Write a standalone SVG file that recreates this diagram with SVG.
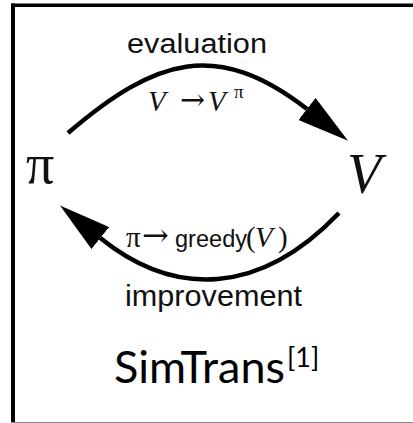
<svg xmlns="http://www.w3.org/2000/svg" width="413" height="423" viewBox="0 0 413 423">
<style>
.sans{font-family:"Liberation Sans",Arial,sans-serif;fill:#111}
.serif{font-family:"Liberation Serif","Times New Roman",serif;fill:#111}
.arr{font-family:"DejaVu Serif","DejaVu Sans",serif;fill:#111}
.it{font-style:italic}
.cal{font-family:Lato,"Open Sans","Liberation Sans",sans-serif;fill:#000}
.arc{fill:none;stroke:#000;stroke-width:4.5}
</style>
<defs>
<marker id="ah" markerUnits="userSpaceOnUse" markerWidth="52" markerHeight="28" refX="0" refY="13.5" orient="auto" viewBox="0 0 50 27">
<path d="M0,0 L50,13.5 L0,27 Z" fill="#000"/>
</marker>
</defs>
<rect x="0" y="0" width="413" height="423" fill="#fff"/>
<g id="frame">
<rect x="11" y="3.5" width="402" height="3.5" fill="#000"/>
<rect x="11" y="3.5" width="4" height="419.5" fill="#000"/>
<rect x="11" y="422" width="402" height="1" fill="#888"/>
</g>
<g id="connectors">
<path class="arc" d="M68,133 C155.4,58.25 216.2,38.85 307,109" marker-end="url(#ah)"/>
<path class="arc" d="M339,213 C259.7,295.8 174.4,297.9 100.3,238" marker-end="url(#ah)"/>
</g>
<g id="node-pi">
<text class="serif" x="26" y="183" font-size="56">π</text>
</g>
<g id="node-V">
<text class="serif it" x="347" y="193" font-size="56">V</text>
</g>
<g id="label-evaluation">
<text class="sans" x="127" y="53" font-size="27" textLength="140" lengthAdjust="spacingAndGlyphs">evaluation</text>
<text class="serif it" x="148" y="111" font-size="29">V</text>
<text class="arr" x="180" y="110" font-size="30">→</text>
<text class="serif it" x="208" y="111" font-size="29">V</text>
<text class="serif" x="234" y="98" font-size="19">π</text>
</g>
<g id="label-improvement">
<text class="serif" x="126" y="247" font-size="29">π</text>
<text class="arr" x="142" y="246" font-size="32">→</text>
<text class="sans" x="175" y="247" font-size="23" textLength="72" lengthAdjust="spacingAndGlyphs">greedy</text>
<text class="serif" x="246" y="247" font-size="29">(</text>
<text class="serif it" x="255" y="247" font-size="29">V</text>
<text class="serif" x="278" y="247" font-size="29">)</text>
<text class="sans" x="125" y="306" font-size="30" textLength="177" lengthAdjust="spacingAndGlyphs">improvement</text>
</g>
<g id="caption">
<text class="cal" x="114" y="383" font-size="45">SimTrans<tspan x="287" y="367" font-size="27">[1]</tspan></text>
</g>
</svg>
